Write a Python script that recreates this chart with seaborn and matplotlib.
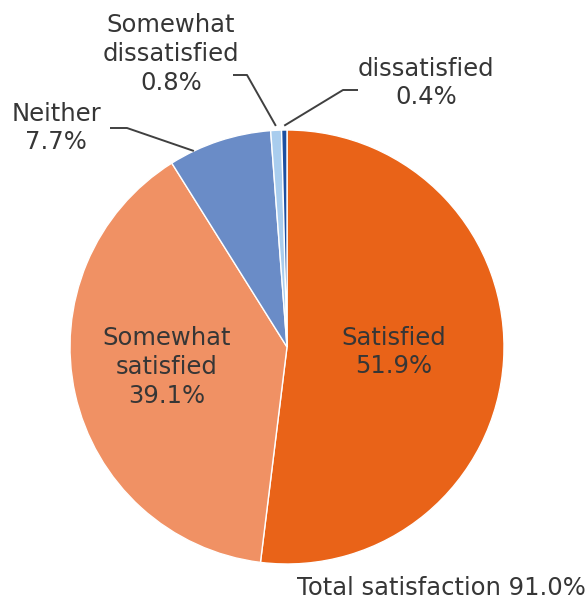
import numpy as np
import matplotlib
matplotlib.use("Agg")
import matplotlib.pyplot as plt
import matplotlib.transforms as mtransforms
import seaborn as sns

# ---- data ----
categories = ["Satisfied", "Somewhat satisfied", "Neither",
              "Somewhat dissatisfied", "dissatisfied"]
values = [51.9, 39.1, 7.7, 0.8, 0.4]
label_texts = ["Satisfied\n51.9%", "Somewhat\nsatisfied\n39.1%", "Neither\n7.7%",
               "Somewhat\ndissatisfied\n0.8%", "dissatisfied\n0.4%"]
total_label = "Total satisfaction 91.0%"
colors = ["#E96318", "#F09164", "#6A8CC7", "#A9CDEE", "#1D4FA0"]

sns.set_theme(style="white")
plt.rcParams["font.family"] = ["DejaVu Sans"]

W, H = 587, 602
fig = plt.figure(figsize=(W / 100, H / 100), dpi=100)
ax = fig.add_axes([0, 0, 1, 1])

# pixel geometry of the pie
cx, cy, R = 287.0, 347.0, 217.0
wedges, _ = ax.pie(values, colors=sns.color_palette(colors), startangle=90,
                   counterclock=False, radius=1.0, center=(0, 0),
                   wedgeprops=dict(edgecolor="white", linewidth=1.0))
ax.set_xlim(-cx / R, (W - cx) / R)
ax.set_ylim((cy - H) / R, cy / R)
ax.set_aspect("equal")
ax.axis("off")

# transform: pixel coordinates, origin top-left
pix = mtransforms.Affine2D().scale(1 / W, -1 / H).translate(0, 1) + fig.transFigure

txt_color = "#363636"
fs = 17.5

def anchor(i, frac=0.5, r=1.0):
    w = wedges[i]
    ang = np.deg2rad(w.theta1 + frac * (w.theta2 - w.theta1))
    return r * np.cos(ang), r * np.sin(ang)

# text positions (pixel centres)
pos = {0: (394, 352), 1: (167, 367), 2: (56, 128), 3: (171, 54), 4: (426, 83)}
for i, t in enumerate(label_texts):
    ax.text(pos[i][0], pos[i][1], t, transform=pix, ha="center", va="center",
            multialignment="center", fontsize=fs, color=txt_color, linespacing=1.25)

ax.text(586, 588, total_label, transform=pix, ha="right", va="center",
        fontsize=fs, color=txt_color)

# leader lines: text-side start, elbow (pixels) -> wedge anchor (data)
def to_pix(x, y):
    return cx + R * x, cy - R * y

leaders = [
    (2, 0.76, 1.0, (110, 128), (127, 128)),
    (3, 0.5, 1.02, (233, 75), (247, 75)),
    (4, 0.5, 1.02, (358, 90), (343, 90)),
]
for i, frac, r, p0, p1 in leaders:
    ax_, ay_ = anchor(i, frac, r)
    p2 = to_pix(ax_, ay_)
    ax.plot([p0[0], p1[0], p2[0]], [p0[1], p1[1], p2[1]], transform=pix,
            color="#404040", lw=1.4, solid_capstyle="butt")

fig.savefig("out.png", dpi=100, facecolor="white")
